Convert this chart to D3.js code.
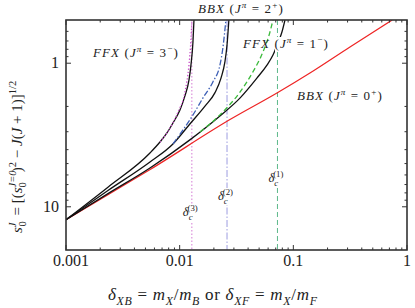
<!DOCTYPE html>
<html>
<head>
<meta charset="utf-8">
<script src="https://cdn.jsdelivr.net/npm/d3@7"></script>
<style>
body { margin: 0; background: #fff; }
text { font-family: "Liberation Serif", serif; fill: #222; }
</style>
</head>
<body>
<script>
// values: [delta, s0]
let xTicks = [0.001, 0.01, 0.1, 1];
let xTickLabels = ["0.001", "0.01", "0.1", "1"];
let yTicks = [1, 10];
let yTickLabels = ["1", "10"];

let bbx0 = [[0.001, 12.3], [0.0023, 8.3], [0.0055, 5.5], [0.0277, 2.47], [0.073, 1.6], [0.14, 1.17], [0.315, 0.77], [0.74, 0.5]];
let ffx1 = [[0.001, 12.3], [0.00234, 8.1], [0.00548, 5.37], [0.0123, 3.42], [0.0226, 2.33], [0.0339, 1.75], [0.0478, 1.27], [0.0586, 1.03], [0.0662, 0.877], [0.0732, 0.723], [0.0794, 0.606], [0.0844, 0.5]];
let ffx1Approx = [[0.0151, 3.01], [0.0226, 2.29], [0.0339, 1.59], [0.0441, 1.15], [0.054, 0.836], [0.0623, 0.606], [0.0662, 0.5]];
let bbx2 = [[0.001, 12.3], [0.00234, 7.7], [0.00548, 4.87], [0.00873, 3.65], [0.0123, 2.65], [0.0167, 1.99], [0.0204, 1.61], [0.0231, 1.27], [0.025, 0.98], [0.0261, 0.747], [0.0271, 0.5]];
let bbx2Approx = [[0.00873, 3.65], [0.0131, 2.29], [0.016, 1.75], [0.0196, 1.35], [0.0226, 1.03], [0.024, 0.783], [0.0255, 0.5]];
let ffx3 = [[0.001, 12.3], [0.00234, 7.3], [0.00548, 4.22], [0.00671, 3.54], [0.00773, 3.06], [0.00873, 2.61], [0.01006, 2.12], [0.01113, 1.69], [0.01207, 1.31], [0.01257, 1.03], [0.01309, 0.711], [0.01336, 0.5]];
let ffx3Approx = [[0.00671, 3.54], [0.00773, 3.06], [0.00966, 2.19], [0.01113, 1.59], [0.01207, 1.03], [0.01257, 0.689], [0.01283, 0.5]];

let deltaC = [0.0725, 0.0261, 0.0128];
let deltaCNames = ["(1)", "(2)", "(3)"];

let width = 415;
let height = 308;
let margin = {top: 20, right: 8, bottom: 58, left: 66};
let plotW = width - margin.left - margin.right;
let plotH = height - margin.top - margin.bottom;

let svg = d3.select("body").append("svg")
	.attr("width", width)
	.attr("height", height);

let x = d3.scaleLog().domain([0.001, 1]).range([margin.left, margin.left + plotW]);
let y = d3.scaleLog().domain([0.5, 20]).range([margin.top, margin.top + plotH]);

svg.append("clipPath").attr("id", "clip")
	.append("rect")
	.attr("x", margin.left).attr("y", margin.top)
	.attr("width", plotW).attr("height", plotH);

let plot = svg.append("g").attr("clip-path", "url(#clip)");

let line = d3.line()
	.x(d => x(d[0]))
	.y(d => y(d[1]))
	.curve(d3.curveMonotoneX);

// critical deltas
let vStyles = [
	{color: "#5cb88a", dash: "5,3"},
	{color: "#9c9ce0", dash: "7,2,1.5,2"},
	{color: "#d57ad5", dash: "1.5,2"}
];
plot.selectAll(".vline")
	.data(deltaC)
	.enter().append("line")
	.attr("class", "vline")
	.attr("x1", d => x(d)).attr("x2", d => x(d))
	.attr("y1", margin.top).attr("y2", margin.top + plotH)
	.attr("stroke", (d, i) => vStyles[i].color)
	.attr("stroke-dasharray", (d, i) => vStyles[i].dash)
	.attr("stroke-width", 1);

plot.append("path").datum(bbx0)
	.attr("d", line).attr("fill", "none")
	.attr("stroke", "#ee2424").attr("stroke-width", 1.2);

[ffx1, bbx2, ffx3].forEach(c => {
	plot.append("path").datum(c)
		.attr("d", line).attr("fill", "none")
		.attr("stroke", "#111").attr("stroke-width", 1.3);
});

// rich text helper: parts [text, italic, pos, dx]
function rich(g, parts, size) {
	let t = g.append("text").style("font-size", size + "px");
	let cur = 0;
	parts.forEach(p => {
		let [str, it, pos, dx] = p;
		let target = pos === "sup" ? -0.4 * size : pos === "sub" ? 0.28 * size : 0;
		let ts = t.append("tspan")
			.text(str)
			.attr("dy", target - cur)
			.style("font-style", it ? "italic" : "normal")
			.style("font-size", (pos ? 0.7 * size : size) + "px");
		if (dx) ts.attr("dx", dx);
		cur = target;
	});
	return t;
}

// label for J=1 covers the black curve
let lab1 = svg.append("g").attr("transform", "translate(243,48)");
lab1.append("rect").attr("x", 32).attr("y", -11).attr("width", 58).attr("height", 15).attr("fill", "#fff");

plot.append("path").datum(ffx1Approx)
	.attr("d", line).attr("fill", "none")
	.attr("stroke", "#3cba3c").attr("stroke-width", 1.3)
	.attr("stroke-dasharray", "5,3");
plot.append("path").datum(bbx2Approx)
	.attr("d", line).attr("fill", "none")
	.attr("stroke", "#3d5fb5").attr("stroke-width", 1.3)
	.attr("stroke-dasharray", "6,2,1.5,2");
plot.append("path").datum(ffx3Approx)
	.attr("d", line).attr("fill", "none")
	.attr("stroke", "#c84cc8").attr("stroke-width", 1.3)
	.attr("stroke-dasharray", "1.3,2");

let labSize = 13;
function stateLabel(g, kind, val, sign) {
	return rich(g, [[kind, true], [" (", false], ["J", true], ["π", true, "sup"], [" = " + val, false], [sign, false, "sup"], [")", false]], labSize)
		.style("letter-spacing", "1.1px");
}
stateLabel(lab1, "FFX", "1", "−");
stateLabel(svg.append("g").attr("transform", "translate(93,57)"), "FFX", "3", "−");
stateLabel(svg.append("g").attr("transform", "translate(198,13)"), "BBX", "2", "+");
stateLabel(svg.append("g").attr("transform", "translate(297,100)"), "BBX", "0", "+");

// delta_c labels
let cLabelY = [182, 200, 216];
deltaC.forEach((d, i) => {
	let g = svg.append("g").attr("transform", `translate(${x(d) - 9},${cLabelY[i]})`);
	g.append("rect").attr("x", -1).attr("y", -12).attr("width", 21).attr("height", 17).attr("fill", "#fff");
	rich(g, [["δ", true], ["c", true, "sub"], [deltaCNames[i], false, "sup", -5]], 12.5);
});

// frame and ticks
let frame = svg.append("g");
frame.append("rect")
	.attr("x", margin.left).attr("y", margin.top)
	.attr("width", plotW).attr("height", plotH)
	.attr("fill", "none").attr("stroke", "#333").attr("stroke-width", 1.6);

let xMinor = [];
xTicks.slice(0, -1).forEach(t => { for (let k = 2; k <= 9; k++) xMinor.push(t * k); });
let yMinor = [0.6, 0.7, 0.8, 0.9, 2, 3, 4, 5, 6, 7, 8, 9];

function xTickMarks(vals, len) {
	vals.forEach(v => {
		frame.append("line").attr("x1", x(v)).attr("x2", x(v))
			.attr("y1", margin.top + plotH).attr("y2", margin.top + plotH - len)
			.attr("stroke", "#333").attr("stroke-width", 1);
		frame.append("line").attr("x1", x(v)).attr("x2", x(v))
			.attr("y1", margin.top).attr("y2", margin.top + len)
			.attr("stroke", "#333").attr("stroke-width", 1);
	});
}
function yTickMarks(vals, len) {
	vals.forEach(v => {
		frame.append("line").attr("y1", y(v)).attr("y2", y(v))
			.attr("x1", margin.left).attr("x2", margin.left + len)
			.attr("stroke", "#333").attr("stroke-width", 1);
		frame.append("line").attr("y1", y(v)).attr("y2", y(v))
			.attr("x1", margin.left + plotW).attr("x2", margin.left + plotW - len)
			.attr("stroke", "#333").attr("stroke-width", 1);
	});
}
xTickMarks(xTicks, 5);
xTickMarks(xMinor, 2.5);
yTickMarks(yTicks, 5);
yTickMarks(yMinor, 2.5);

svg.selectAll(".xlab").data(xTicks).enter().append("text")
	.attr("class", "xlab")
	.attr("x", (d, i) => x(d) + (i === 0 ? 5 : 0))
	.attr("y", 266)
	.attr("text-anchor", "middle")
	.style("font-size", "16px")
	.text((d, i) => xTickLabels[i]);

svg.selectAll(".ylab").data(yTicks).enter().append("text")
	.attr("class", "ylab")
	.attr("x", margin.left - 7)
	.attr("y", d => y(d) + 5)
	.attr("text-anchor", "end")
	.style("font-size", "16px")
	.text((d, i) => yTickLabels[i]);

// axis titles
rich(svg.append("g").attr("transform", "translate(108,300)"), [
	["δ", true], ["XB", true, "sub"], [" = ", false], ["m", true], ["X", true, "sub"], ["/", false], ["m", true], ["B", true, "sub"],
	[" or ", false], ["δ", true], ["XF", true, "sub"], [" = ", false], ["m", true], ["X", true, "sub"], ["/", false], ["m", true], ["F", true, "sub"]
], 17).style("letter-spacing", "0.7px");

rich(svg.append("g").attr("transform", "translate(22,233) rotate(-90)"), [
	["s", true], ["J", true, "sup"], ["0", false, "sub", -4], [" = [(", false, null, 2], ["s", true], ["J=0", true, "sup"], ["0", false, "sub", -17],
	[")", false, null, 10], ["2", false, "sup"], [" − ", false], ["J", true], ["(", false], ["J", true], [" + 1)]", false], ["1/2", false, "sup"]
], 15);
</script>
</body>
</html>
